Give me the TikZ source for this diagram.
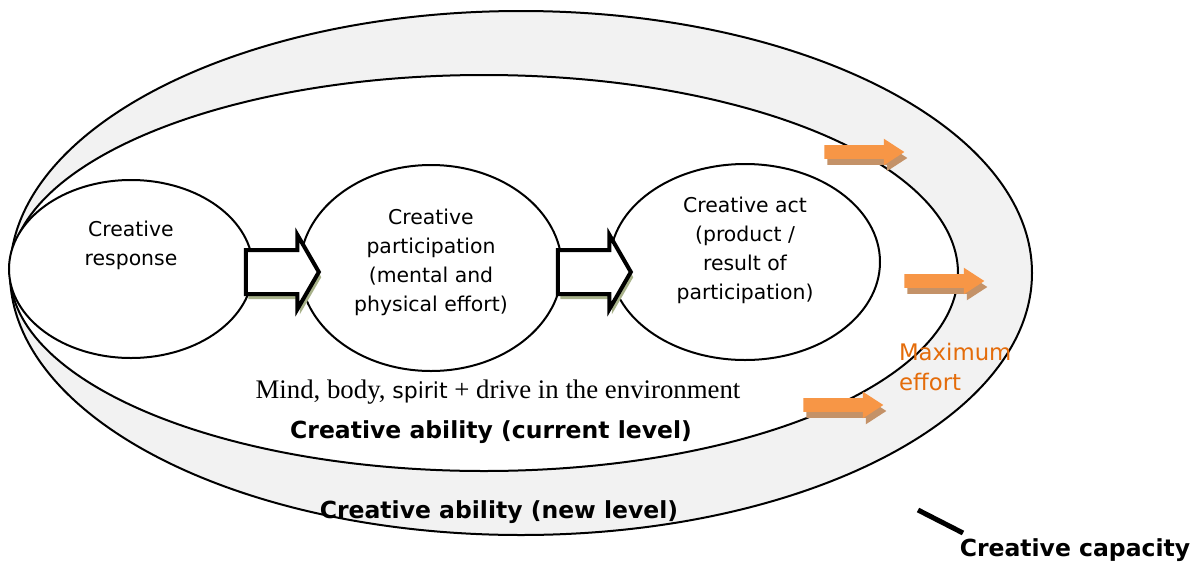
\documentclass[tikz,border=0pt]{standalone}
\usepackage{fontspec}
\setmainfont{DejaVu Sans}
\newfontfamily\timesfont{Liberation Serif}
\usetikzlibrary{shapes.geometric,shapes.arrows,shadows}

\definecolor{capgray}{RGB}{242,242,242}
\definecolor{effortorange}{RGB}{247,150,70}
\definecolor{efforttext}{RGB}{228,108,10}
\definecolor{arrowshade}{RGB}{168,178,138}
\definecolor{orangeshade}{RGB}{196,146,104}

\tikzset{
  stage/.style={ellipse, draw, line width=1pt, fill=white, inner sep=0pt},
  stagetext/.style={align=center, font=\fontsize{10.2}{14.5}\selectfont},
  blockarrow/.style={single arrow, draw, line width=2pt, fill=white,
    inner xsep=0pt, inner ysep=10pt, minimum height=36.5pt,
    single arrow head extend=7.5pt, single arrow tip angle=120,
    drop shadow={shadow xshift=1.2pt, shadow yshift=-2.6pt, fill=arrowshade, opacity=1}},
  effortarrow/.style={single arrow, fill=effortorange,
    inner xsep=0pt, inner ysep=3.25pt, minimum height=40pt,
    single arrow head extend=3.2pt, single arrow tip angle=66,
    drop shadow={shadow xshift=1.5pt, shadow yshift=-3pt, fill=orangeshade, opacity=1}},
  level/.style={font=\bfseries\fontsize{11.75}{14}\selectfont}
}

\begin{document}
\begin{tikzpicture}[x=0.5pt, y=-0.5pt]
    \useasboundingbox (0,0) rectangle (1196,563);
    %\draw[gray] (0,0) grid[step=50] (1196,563);

    % capacity and current level
    \draw[line width=1pt, fill=capgray] (521,273) ellipse [x radius=511, y radius=262];
    \draw[line width=1pt, fill=white] (484,273) ellipse [x radius=474, y radius=198];

    \node[stage, minimum width=122pt, minimum height=89pt] (resp) at (131,269) {};
    \node[stage, minimum width=131pt, minimum height=103pt] (part) at (431,268) {};
    \node[stage, minimum width=135pt, minimum height=98pt] (act) at (745,262) {};

    \node[stagetext] (resptext) at (131,245) {Creative\\response};
    \node[stagetext] (parttext) at (431,262) {Creative\\participation\\(mental and\\physical effort)};
    \node[stagetext] (acttext) at (745,250) {Creative act\\(product /\\result of\\participation)};

    \node[blockarrow] (step1) at (276,272) {};
    \node[blockarrow] (step2) at (588,272) {};

    \node[effortarrow] (push1) at (859,152) {};
    \node[effortarrow] (push2) at (939,281) {};
    \node[effortarrow] (push3) at (838,405) {};
    \node[anchor=west, align=left, text=efforttext, font=\fontsize{11.4}{15}\selectfont] (maxeff) at (892,367) {Maximum\\effort};

    \node (mind) at (498,392) {\timesfont\fontsize{13.4}{15}\selectfont Mind, body, {\normalfont\fontsize{11}{15}\selectfont spirit} + drive in the environment};
    \node[level] (curlevel) at (491,432) {Creative ability (current level)};
    \node[level] (newlevel) at (499,512) {Creative ability (new level)};

    \node[level] (cap) at (1075,550) {Creative capacity};
    \coordinate (captip) at (918,510);
    \coordinate (capfoot) at (963,533);
    \draw[line width=2.5pt] (captip) -- (capfoot);
\end{tikzpicture}
\end{document}
